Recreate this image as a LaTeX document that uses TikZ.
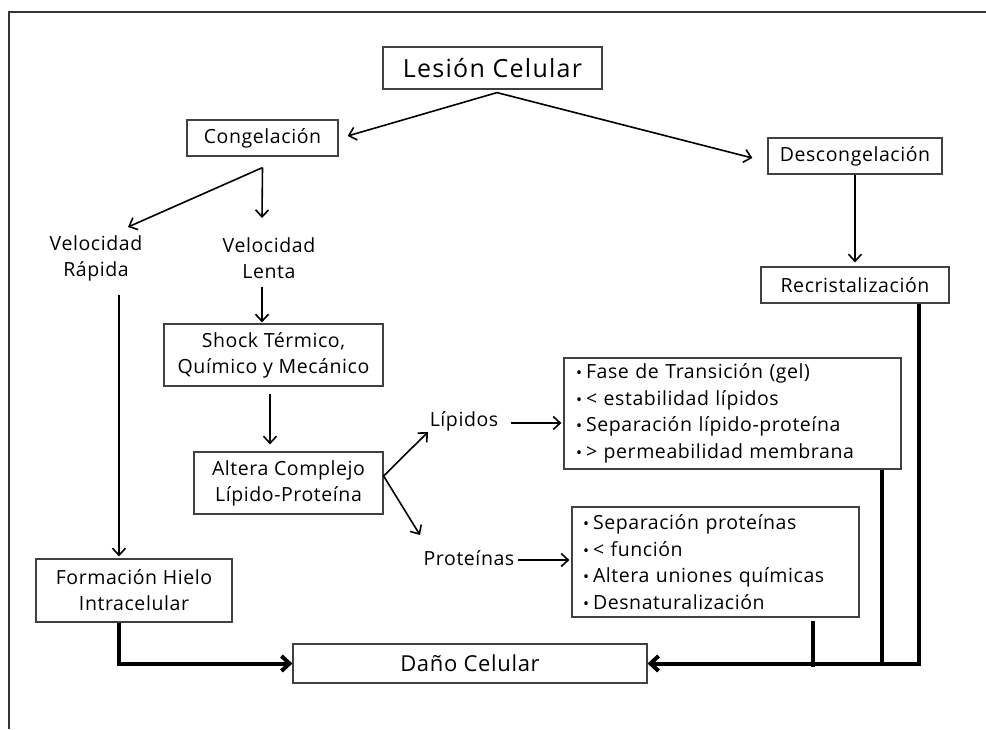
\documentclass[tikz,border=0pt]{standalone}
\usepackage{fontspec}
\setmainfont{Open Sans}[LetterSpace=3]
\usetikzlibrary{arrows.meta}
\newcommand{\itm}{{\fontsize{16}{16}\selectfont\textbullet}\hspace{4pt}}

\begin{document}
\begin{tikzpicture}[x=1pt,y=-1pt,
  box/.style={draw=black!75,line width=1.2pt,inner sep=0pt,align=center,
    font=\fontsize{19.5}{26}\selectfont},
  lbl/.style={align=center,inner sep=0pt,font=\fontsize{19.5}{26}\selectfont},
  lst/.style={draw=black!75,line width=1.2pt,inner xsep=12pt,inner ysep=0pt,
    align=left,font=\fontsize{19.5}{26.5}\selectfont},
  arr/.style={line width=1.6pt,-{Straight Barb[length=7pt,width=13pt]}},
  thk/.style={line width=4pt,-{Straight Barb[length=8pt,width=15pt]}},
  mid/.style={line width=3.5pt}]
\useasboundingbox (0,0) rectangle (986,729);
\draw[black!80,line width=1.2pt] (9,729) -- (9,12) -- (986,12);

\node[box,minimum width=219,minimum height=42,
  font=\fontsize{25}{30}\selectfont\addfontfeature{LetterSpace=5}] (lesion) at (492.5,68) {Lesión Celular};
\node[box,minimum width=151,minimum height=36] (congel) at (262.5,138) {Congelación};
\node[box,minimum width=174,minimum height=36] (descon) at (855,156) {Descongelación};
\node[lbl] (rapida) at (96,258) {Velocidad\\Rápida};
\node[lbl] (lenta) at (269,258) {Velocidad\\Lenta};
\node[box,minimum width=219,minimum height=62] (shock) at (273.5,355) {Shock Térmico,\\Químico y Mecánico};
\node[box,minimum width=189,minimum height=62] (altera) at (288.5,483) {Altera Complejo\\Lípido-Proteína};
\node[lbl] (lipidos) at (464,421) {Lípidos};
\node[lbl] (proteinas) at (469,558) {Proteínas};
\node[lst,text width=313,minimum height=111] (fase) at (732.5,413.5)
  {\itm Fase de Transición (gel)\\\itm < estabilidad lípidos\\\itm Separación lípido-proteína\\\itm > permeabilidad membrana};
\node[lst,inner xsep=11pt,text width=265,minimum height=110] (protbox) at (715.5,562)
  {\itm Separación proteínas\\\itm < función\\\itm Altera uniones químicas\\\itm Desnaturalización};
\node[box,minimum width=188,minimum height=36] (recris) at (855,285) {Recristalización};
\node[box,minimum width=196,minimum height=63] (formacion) at (134,590.5) {Formación Hielo\\Intracelular};
\node[box,minimum width=354,minimum height=39,font=\fontsize{22}{26}\selectfont] (dano) at (470,663.5) {Daño Celular};

\draw[arr] ([shift={(4.5,3)}]lesion.south) -- ([shift={(9,-2)}]congel.east);
\draw[arr] ([shift={(4.5,3)}]lesion.south) -- ([shift={(-15,2)}]descon.west);
\draw[arr] ([shift={(0,11)}]congel.south) -- ([shift={(32,-31)}]rapida.center);
\draw[arr] ([shift={(0,11)}]congel.south) -- ([shift={(-7,-40)}]lenta.center);
\draw[arr] ([shift={(23,37)}]rapida.center) -- ([shift={(-15,-2)}]formacion.north);
\draw[arr] ([shift={(-7,29)}]lenta.center) -- ([shift={(-11.5,-1)}]shock.north);
\draw[arr] ([shift={(-3.5,7)}]shock.south) -- ([shift={(-18.5,-7)}]altera.north);
\draw[arr] ([shift={(0,-7)}]altera.east) -- ([shift={(-36,11)}]lipidos.center);
\draw[arr] ([shift={(0,-7)}]altera.east) -- ([shift={(-49,-23)}]proteinas.center);
\draw[arr] ([shift={(47,2)}]lipidos.center) -- ([shift={(-2,9.5)}]fase.west);
\draw[arr] ([shift={(49,2)}]proteinas.center) -- ([shift={(-2,-2)}]protbox.west);
\draw[arr] (descon.south) -- ([shift={(0,-4)}]recris.north);

\draw[thk] ([shift={(-15,0)}]formacion.south) |- (dano.west);
\draw[thk] ([shift={(64,0)}]recris.south) |- (dano.east);
\draw[mid] ([shift={(149.5,0)}]fase.south) -- ([shift={(149.5,0)}]fase.south |- dano.east);
\draw[mid] ([shift={(97.5,3)}]protbox.south) -- ([shift={(97.5,3)}]protbox.south |- dano.east);
\end{tikzpicture}
\end{document}
